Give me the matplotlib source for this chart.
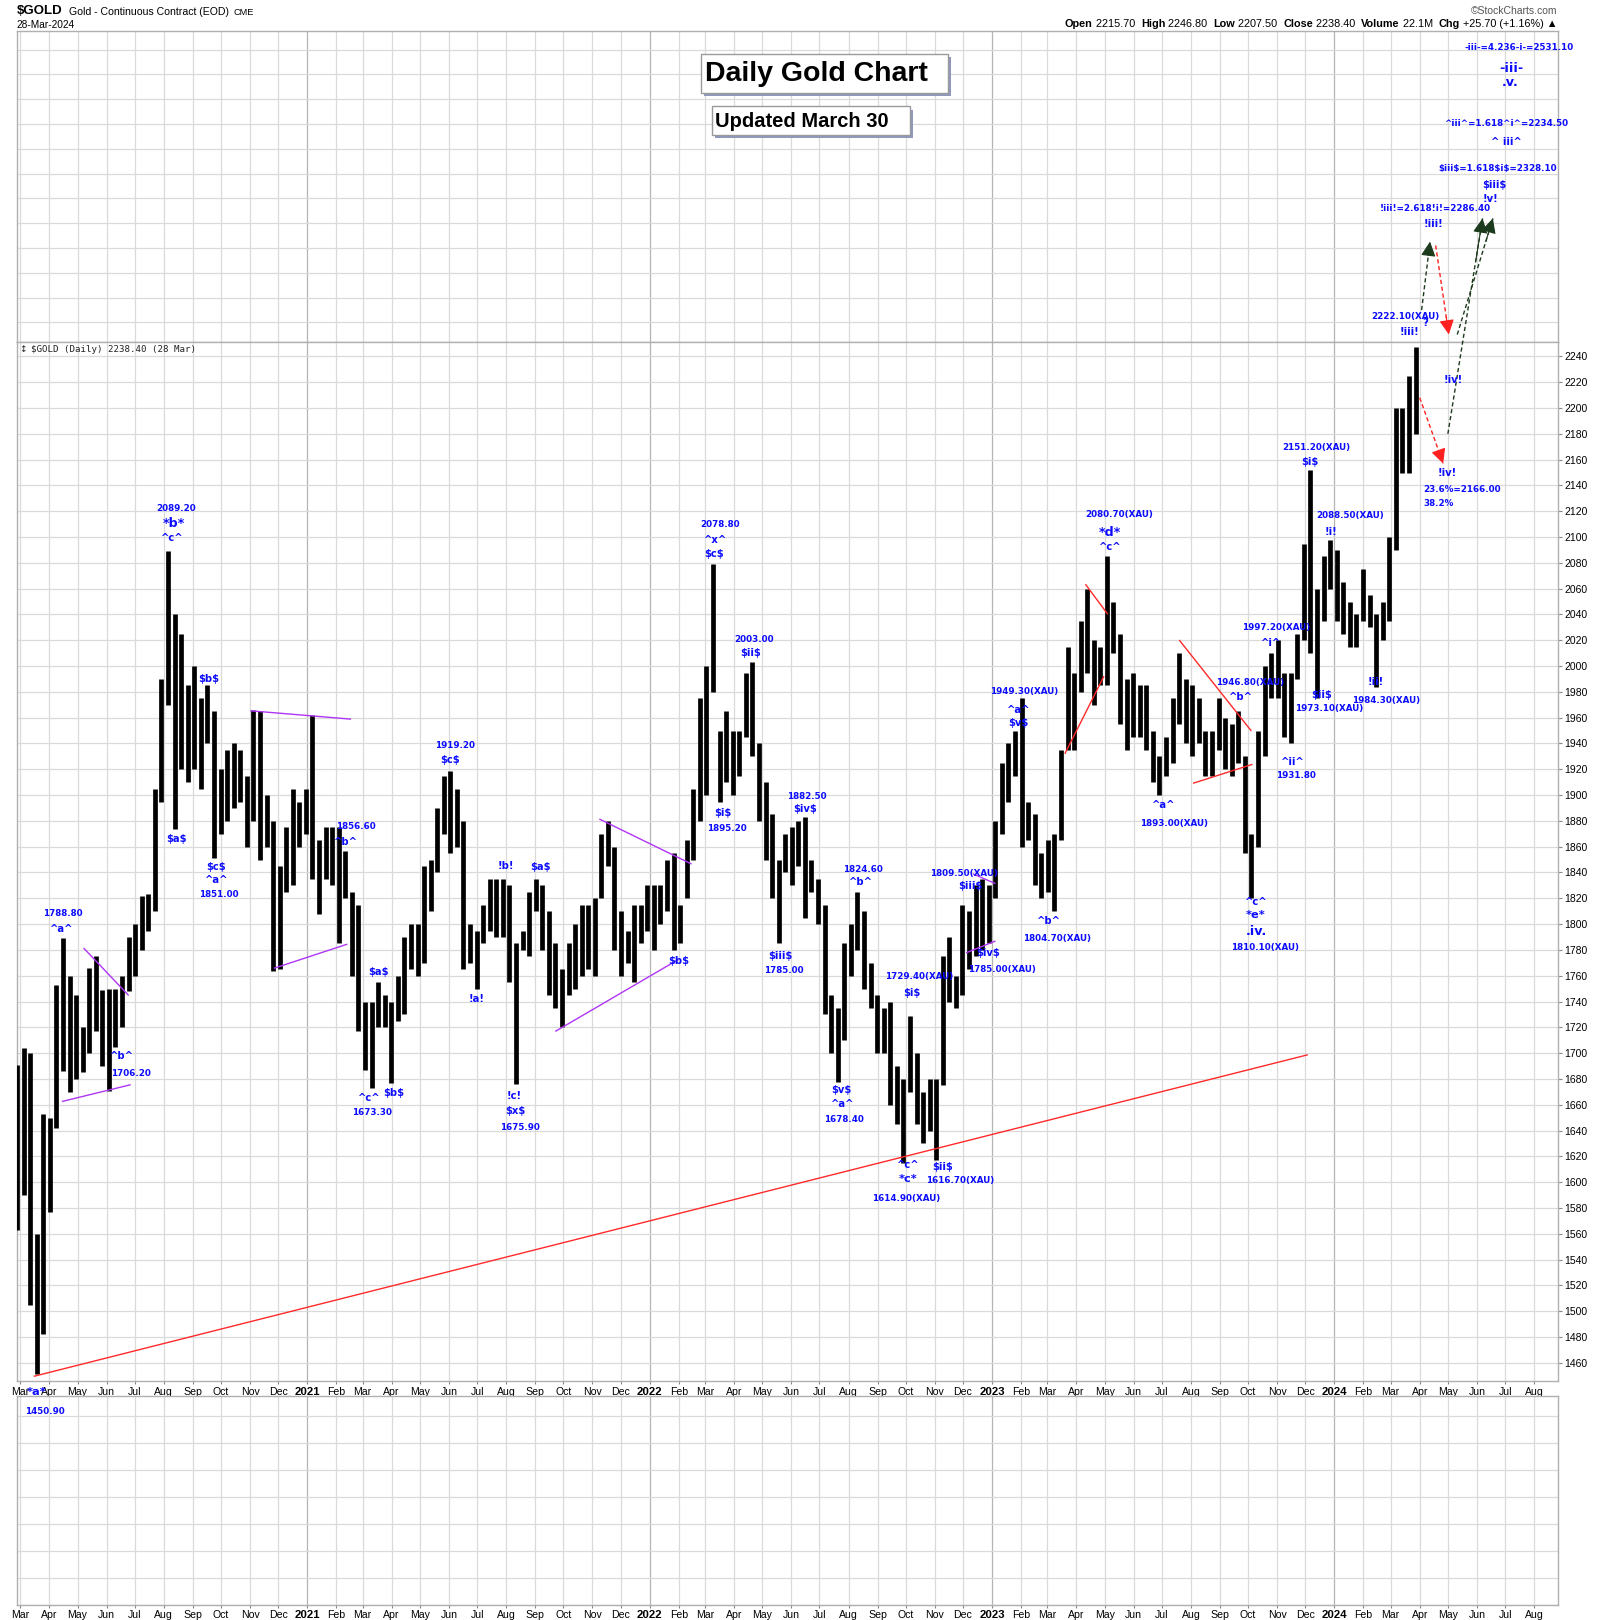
import matplotlib
matplotlib.use("Agg")
import matplotlib.pyplot as plt
import matplotlib.dates as mdates
from matplotlib import font_manager
from matplotlib.font_manager import FontProperties
from matplotlib.patches import Rectangle
import pandas as pd
import numpy as np


def has_font(name):
    try:
        font_manager.findfont(FontProperties(family=name), fallback_to_default=False)
        return True
    except Exception:
        return False


NARROW = 'Liberation Sans Narrow' if has_font('Liberation Sans Narrow') else 'Liberation Sans'
ARIAL = 'Liberation Sans'
plt.rcParams['font.family'] = ['DejaVu Sans']

# ---------------- data (weekly ranges) ----------------
lows_2020 = [1563, 1590, 1505, 1451, 1482, 1577, 1642, 1686, 1670, 1680,
             1685, 1700, 1717, 1690, 1671, 1705, 1720, 1748, 1760, 1780,
             1795, 1810, 1895, 1970, 1874, 1920, 1910, 1920, 1905, 1940,
             1851, 1870, 1880, 1890, 1895, 1860, 1880, 1850, 1860, 1764,
             1765, 1825, 1830, 1860, 1870]
highs_2020 = [1691, 1704, 1700, 1560, 1653, 1650, 1753, 1789, 1760, 1745,
              1720, 1766, 1775, 1749, 1750, 1750, 1760, 1790, 1800, 1822,
              1823, 1905, 1990, 2089, 2040, 2025, 1985, 2000, 1975, 1985,
              1965, 1920, 1935, 1940, 1935, 1915, 1966, 1965, 1900, 1880,
              1845, 1875, 1905, 1895, 1905]
lows_2021 = [1835, 1808, 1835, 1830, 1785, 1820, 1760, 1717, 1687, 1673,
             1720, 1720, 1677, 1725, 1730, 1765, 1760, 1770, 1810, 1840,
             1870, 1855, 1860, 1765, 1770, 1750, 1785, 1795, 1790, 1790,
             1755, 1676, 1780, 1775, 1810, 1780, 1745, 1735, 1720, 1745,
             1750, 1760, 1765, 1760, 1820, 1845, 1780, 1760, 1770, 1755,
             1785, 1795]
highs_2021 = [1962, 1865, 1875, 1875, 1875, 1857, 1825, 1815, 1740, 1740,
              1755, 1745, 1740, 1760, 1790, 1800, 1800, 1845, 1850, 1890,
              1915, 1919, 1905, 1880, 1800, 1795, 1815, 1835, 1835, 1835,
              1830, 1785, 1795, 1825, 1835, 1830, 1810, 1785, 1765, 1785,
              1800, 1815, 1815, 1820, 1870, 1880, 1860, 1810, 1795, 1815,
              1815, 1830]
lows_2022 = [1780, 1800, 1810, 1780, 1785, 1820, 1850, 1880, 1900, 1980,
             1895, 1910, 1900, 1915, 1945, 1930, 1880, 1850, 1820, 1785,
             1840, 1830, 1845, 1805, 1825, 1800, 1730, 1700, 1678, 1710,
             1760, 1780, 1750, 1735, 1700, 1700, 1660, 1645, 1615, 1670,
             1645, 1630, 1640, 1617, 1675, 1740, 1735, 1745, 1765, 1775,
             1780, 1785]
highs_2022 = [1830, 1830, 1850, 1855, 1815, 1865, 1905, 1975, 2000, 2079,
              1950, 1965, 1950, 1950, 1995, 2003, 1940, 1910, 1885, 1850,
              1870, 1875, 1880, 1883, 1850, 1835, 1815, 1745, 1735, 1785,
              1800, 1825, 1810, 1770, 1745, 1735, 1740, 1690, 1680, 1729,
              1700, 1670, 1680, 1680, 1775, 1790, 1760, 1815, 1810, 1830,
              1835, 1830]
lows_2023 = [1820, 1870, 1895, 1915, 1860, 1865, 1830, 1820, 1825, 1810,
             1865, 1935, 1935, 1980, 1995, 1970, 1985, 1985, 2010, 1955,
             1935, 1945, 1945, 1935, 1910, 1900, 1915, 1925, 1955, 1940,
             1930, 1940, 1915, 1915, 1935, 1920, 1915, 1925, 1855, 1820,
             1860, 1930, 1975, 1975, 1945, 1940, 1990, 2020, 2010, 1975,
             2035, 2060]
highs_2023 = [1880, 1925, 1940, 1950, 1975, 1895, 1885, 1855, 1865, 1870,
              1935, 2015, 1995, 2035, 2060, 2020, 2015, 2085, 2050, 2025,
              1990, 1995, 1985, 1985, 1950, 1930, 1945, 1975, 2010, 1990,
              1985, 1975, 1950, 1950, 1975, 1960, 1955, 1965, 1930, 1870,
              1950, 2000, 2010, 2020, 1995, 1995, 2025, 2095, 2152, 2060,
              2085, 2098]
lows_2024 = [2035, 2025, 2015, 2015, 2035, 2030, 1984, 2020, 2035, 2090,
             2150, 2150, 2180]
highs_2024 = [2090, 2065, 2050, 2040, 2075, 2055, 2040, 2050, 2100, 2200,
              2200, 2225, 2247]

lows = lows_2020 + lows_2021 + lows_2022 + lows_2023 + lows_2024
highs = highs_2020 + highs_2021 + highs_2022 + highs_2023 + highs_2024
week_start = pd.date_range('2020-02-24', periods=len(lows), freq='W-MON')

# trend lines: (start date, start price, end date, end price)
purple_lines = [
    ('2020-04-15', 1662.6, '2020-06-26', 1675.4),
    ('2020-05-08', 1781.1, '2020-06-24', 1745.1),
    ('2020-11-02', 1965.3, '2021-02-16', 1958.9),
    ('2020-11-27', 1765.9, '2021-02-12', 1784.3),
    ('2021-11-09', 1881.2, '2022-02-14', 1846.8),
    ('2021-09-23', 1717.1, '2022-01-31', 1772.3),
    ('2022-12-12', 1838.8, '2023-01-04', 1831.6),
    ('2022-12-05', 1777.9, '2023-01-04', 1786.7),
]
red_lines = [
    ('2020-03-16', 1449.6, '2023-12-03', 1698.6),
    ('2023-04-11', 2063.0, '2023-05-04', 2040.6),
    ('2023-03-20', 1932.5, '2023-04-30', 1991.7),
    ('2023-07-20', 2019.8, '2023-10-04', 1950.1),
    ('2023-08-04', 1909.3, '2023-10-05', 1923.7),
]
# projected paths: (start date, start price, end date, end price, kind)
proj_arrows = [
    ('2024-04-03', 2276, '2024-04-12', 2329, 'up'),
    ('2024-04-18', 2326, '2024-05-02', 2257, 'down'),
    ('2024-05-01', 2180, '2024-06-07', 2347, 'up'),
    ('2024-05-11', 2257, '2024-06-18', 2347, 'up'),
    ('2024-04-01', 2208, '2024-04-26', 2157, 'down'),
]

price_ticks = list(range(1460, 2241, 20))
month_starts = pd.date_range('2020-03-01', '2024-08-01', freq='MS')
month_labels = [str(d.year) if d.month == 1 else d.strftime('%b') for d in month_starts]

# ---------------- layout helpers (reference layout units) ----------------
RW, RH = 1548.0, 1568.0


def fx(x):
    return x / RW


def fy(y):
    return 1 - y / RH


fig = plt.figure(figsize=(16, 16.2), dpi=100)
fig.patch.set_facecolor('white')

X0, X1 = pd.Timestamp('2020-02-26'), pd.Timestamp('2024-08-26')
GRID = '#dadada'
YEARGRID = '#b4b4b4'
SPINE = '#b0b0b0'

ax_top = fig.add_axes([fx(16), fy(331), fx(1507) - fx(16), fy(30) - fy(331)])
ax = fig.add_axes([fx(16), fy(1337), fx(1507) - fx(16), fy(331) - fy(1337)])
ax_bot = fig.add_axes([fx(16), fy(1553), fx(1507) - fx(16), fy(1351) - fy(1553)])


def vgrid(a):
    for d in month_starts:
        a.axvline(d, color=YEARGRID if d.month == 1 else GRID, lw=0.9, zorder=0)


for a in (ax_top, ax, ax_bot):
    a.set_xlim(X0, X1)
    a.set_facecolor('white')
    for s in a.spines.values():
        s.set_color(SPINE)
        s.set_linewidth(1.0)
    vgrid(a)

# top (annotation) panel
ax_top.set_ylim(0, 301)
for k in range(12):
    ax_top.axhline(301 - (18 + 24 * k), color=GRID, lw=0.9, zorder=0)
ax_top.set_xticks([])
ax_top.set_yticks([])

# bottom empty panel
ax_bot.set_ylim(0, 202)
for k in range(8):
    ax_bot.axhline(202 - (20 + 26 * k), color=GRID, lw=0.9, zorder=0)
ax_bot.set_yticks([])

# main panel
ax.set_ylim(1445.6, 2251.2)
for p in price_ticks:
    ax.axhline(p, color=GRID, lw=0.9, zorder=0)
ax.yaxis.tick_right()
ax.set_yticks(price_ticks)
ax.set_yticklabels([str(p) for p in price_ticks], fontsize=7.5, family=NARROW)
ax.tick_params(axis='y', length=3, width=0.8, color='#888888', pad=2)

for a in (ax, ax_bot):
    a.set_xticks(month_starts)
    a.set_xticklabels(month_labels, fontsize=7.6, family=NARROW)
    a.tick_params(axis='x', length=2, width=0.8, color='#888888', pad=2)
    for lab, d in zip(a.get_xticklabels(), month_starts):
        if d.month == 1:
            lab.set_fontweight('bold')
            lab.set_fontsize(8.2)

# price bars
xpos = week_start + pd.Timedelta(hours=60)
ax.vlines(xpos, lows, highs, color='black', lw=3.4, zorder=3)

for d1, p1, d2, p2 in purple_lines:
    ax.plot([pd.Timestamp(d1), pd.Timestamp(d2)], [p1, p2], color='#b035f5', lw=1.0, zorder=4)
for d1, p1, d2, p2 in red_lines:
    ax.plot([pd.Timestamp(d1), pd.Timestamp(d2)], [p1, p2], color='#ff2a2a', lw=1.0, zorder=4)

for d1, p1, d2, p2, kind in proj_arrows:
    c = '#1c3a1c' if kind == 'up' else '#ff2020'
    t1, t2 = pd.Timestamp(d1), pd.Timestamp(d2)
    ax.plot([t1, t2], [p1, p2], color=c, lw=1.0, ls=(0, (3, 2)), clip_on=False, zorder=5)
    tm = t1 + (t2 - t1) * 0.8
    pm = p1 + (p2 - p1) * 0.8
    ax.annotate('', xy=(mdates.date2num(t2), p2), xytext=(mdates.date2num(tm), pm),
                arrowprops=dict(arrowstyle='-|>,head_length=0.9,head_width=0.45',
                                color=c, lw=0.8, shrinkA=0, shrinkB=0, clip_on=False),
                annotation_clip=False, zorder=6)

# ---------------- annotations ----------------
BLUE = '#0c0cff'
SIZES = {'n': 6.3, 's': 7.2, 'm': 8.2, 'L': 9.2}
notes = [
    (61, 884, '1788.80', 'n'), (60, 899, '^a^', 's'),
    (118, 1022, '^b^', 's'), (127, 1039, '1706.20', 'n'),
    (170, 492, '2089.20', 'n'), (168, 507, '*b*', 'L'), (167, 521, '^c^', 's'),
    (171, 812, '$a$', 's'), (202, 657, '$b$', 's'),
    (209, 839, '$c$', 's'), (210, 852, '^a^', 's'), (212, 866, '1851.00', 'n'),
    (344, 800, '1856.60', 'n'), (335, 815, '^b^', 's'),
    (366, 941, '$a$', 's'), (357, 1063, '^c^', 's'), (381, 1058, '$b$', 's'),
    (360, 1077, '1673.30', 'n'),
    (440, 722, '1919.20', 'n'), (435, 736, '$c$', 's'),
    (489, 838, '!b!', 's'), (523, 839, '$a$', 's'), (461, 967, '!a!', 's'),
    (497, 1061, '!c!', 's'), (499, 1075, '$x$', 's'), (503, 1091, '1675.90', 'n'),
    (657, 930, '$b$', 's'),
    (697, 508, '2078.80', 'n'), (692, 523, '^x^', 's'), (691, 536, '$c$', 's'),
    (730, 619, '2003.00', 'n'), (726, 632, '$ii$', 's'),
    (699, 787, '$i$', 's'), (703, 802, '1895.20', 'n'),
    (781, 771, '1882.50', 'n'), (779, 783, '$iv$', 's'),
    (755, 925, '$iii$', 's'), (758, 939, '1785.00', 'n'),
    (835, 842, '1824.60', 'n'), (833, 854, '^b^', 's'),
    (814, 1055, '$v$', 's'), (815, 1069, '^a^', 's'), (817, 1084, '1678.40', 'n'),
    (889, 945, '1729.40(XAU)', 'n'), (882, 961, '$i$', 's'),
    (879, 1128, '^c^', 's'), (879, 1141, '*c*', 'm'), (877, 1160, '1614.90(XAU)', 'n'),
    (912, 1130, '$ii$', 's'), (929, 1143, '1616.70(XAU)', 'n'),
    (933, 845, '1809.50(XAU)', 'n'), (939, 858, '$iii$', 's'),
    (956, 922, '$iv$', 's'), (969, 938, '1785.00(XAU)', 'n'),
    (991, 669, '1949.30(XAU)', 'n'), (986, 687, '^a^', 's'), (985, 700, '$v$', 's'),
    (1015, 891, '^b^', 's'), (1023, 908, '1804.70(XAU)', 'n'),
    (1083, 498, '2080.70(XAU)', 'n'), (1074, 515, '*d*', 'L'), (1074, 529, '^c^', 's'),
    (1126, 779, '^a^', 's'), (1136, 797, '1893.00(XAU)', 'n'),
    (1209, 661, '1946.80(XAU)', 'n'), (1201, 675, '^b^', 's'),
    (1235, 607, '1997.20(XAU)', 'n'), (1230, 622, '^i^', 's'),
    (1215, 873, '^c^', 's'), (1215, 886, '*e*', 'm'), (1216, 902, '.iv.', 'L'),
    (1224, 917, '1810.10(XAU)', 'n'),
    (1251, 738, '^ii^', 's'), (1254, 751, '1931.80', 'n'),
    (1274, 433, '2151.20(XAU)', 'n'), (1267, 447, '$i$', 's'),
    (1306, 499, '2088.50(XAU)', 'n'), (1288, 515, '!i!', 's'),
    (1279, 673, '$ii$', 's'), (1286, 686, '1973.10(XAU)', 'n'),
    (1331, 660, '!ii!', 's'), (1341, 678, '1984.30(XAU)', 'n'),
    (1400, 458, '!iv!', 's'), (1406, 368, '!iv!', 's'),
    (35, 1347, '*a*', 'm'), (43, 1366, '1450.90', 'n'),
    (1360, 306, '2222.10(XAU)', 'n'), (1379, 313, '?', 's'), (1364, 321, '!iii!', 's'),
    (1389, 202, '!iii!=2.618!i!=2286.40', 'n'), (1387, 217, '!iii!', 's'),
    (1449, 163, '$iii$=1.618$i$=2328.10', 'n'), (1446, 179, '$iii$', 's'),
    (1442, 193, '!v!', 's'),
    (1457, 120, '^iii^=1.618^i^=2234.50', 'n'), (1457, 137, '^ iii^', 's'),
    (1470, 46, '-iii-=4.236-i-=2531.10', 'n'), (1462, 66, '-iii-', 'L'),
    (1461, 80, '.v.', 'L'),
]
for x, y, s, k in notes:
    fig.text(fx(x), fy(y), s, ha='center', va='center', color=BLUE,
             fontsize=SIZES[k], fontweight='bold', parse_math=False, zorder=10)
for y, s in ((474, '23.6%=2166.00'), (487, '38.2%')):
    fig.text(fx(1377), fy(y), s, ha='left', va='center', color=BLUE,
             fontsize=SIZES['n'], fontweight='bold', parse_math=False, zorder=10)

# panel label
fig.text(fx(30), fy(338), '$GOLD (Daily) 2238.40 (28 Mar)', ha='left', va='center',
         fontsize=6.6, family='DejaVu Sans Mono', color='#222222', parse_math=False)
fig.text(fx(19), fy(338), '\u2195', ha='left', va='center', fontsize=6.5, color='#222222')

# ---------------- header ----------------
t = fig.text(fx(16), fy(14), '$GOLD', ha='left', va='baseline', fontsize=9.5,
             fontweight='bold', family=NARROW, parse_math=False)
t2 = ax.annotate('Gold - Continuous Contract (EOD)', xy=(1, 0), xycoords=t, xytext=(5, 0),
                 textcoords='offset points', va='bottom', fontsize=7.6, family=NARROW,
                 annotation_clip=False)
ax.annotate('CME', xy=(1, 0), xycoords=t2, xytext=(3, 0), textcoords='offset points',
            va='bottom', fontsize=6.6, family=NARROW, annotation_clip=False)
fig.text(fx(16), fy(24), '28-Mar-2024', ha='left', va='center', fontsize=7.3, family=NARROW)
fig.text(fx(1507), fy(11), '\u00a9StockCharts.com', ha='right', va='center', fontsize=7.5,
         family=NARROW, color='#555555')

ohlc = [('Open', True), (' 2215.70  ', False), ('High', True), (' 2246.80  ', False),
        ('Low', True), (' 2207.50  ', False), ('Close', True), (' 2238.40  ', False),
        ('Volume', True), (' 22.1M  ', False), ('Chg', True), (' +25.70 (+1.16%) \u25b2', False)]
prev = None
for s, b in reversed(ohlc):
    kw = dict(fontsize=7.8, family=NARROW, fontweight='bold' if b else 'normal')
    if prev is None:
        prev = fig.text(fx(1507), fy(23), s, ha='right', va='center', **kw)
    else:
        prev = ax.annotate(s, xy=(0, 0), xycoords=prev, xytext=(0, 0),
                           textcoords='offset points', ha='right', va='bottom',
                           annotation_clip=False, **kw)

# title boxes with shadow
for (x0, y0, x1, y1, txt, fs, tx) in [(678, 52, 917, 90, 'Daily Gold Chart', 20.5, 682),
                                      (689, 103, 880, 131, 'Updated March 30', 14.5, 692)]:
    fig.patches.append(Rectangle((fx(x0 + 3), fy(y1 + 3)), fx(x1 - x0), fy(y0) - fy(y1),
                                 transform=fig.transFigure, facecolor='#9098bc',
                                 edgecolor='none', zorder=8))
    fig.patches.append(Rectangle((fx(x0), fy(y1)), fx(x1 - x0), fy(y0) - fy(y1),
                                 transform=fig.transFigure, facecolor='white',
                                 edgecolor='#9a9a9a', lw=1.0, zorder=9))
    fig.text(fx(tx), fy((y0 + y1) / 2 + 1), txt, ha='left', va='center', fontsize=fs,
             fontweight='bold', family=ARIAL, zorder=11)

fig.savefig('out.png', dpi=100, facecolor='white')
